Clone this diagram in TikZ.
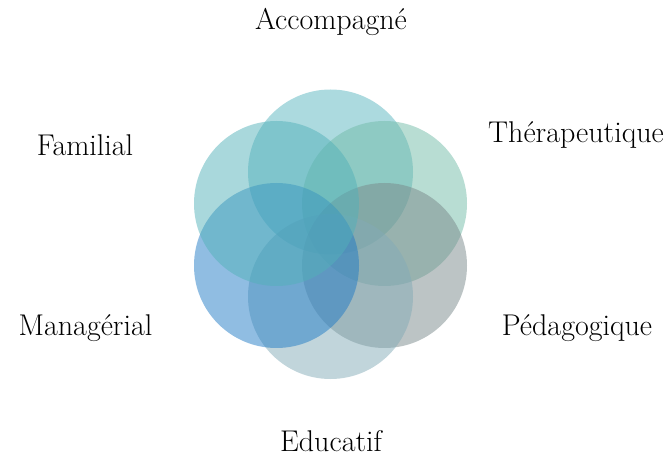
\documentclass[tikz,border=0pt]{standalone}
\definecolor{cTop}{RGB}{89,181,191}
\definecolor{cUL}{RGB}{83,177,185}
\definecolor{cUR}{RGB}{113,187,167}
\definecolor{cLR}{RGB}{121,137,139}
\definecolor{cBot}{RGB}{131,171,183}
\definecolor{cLL}{RGB}{33,123,197}
\tikzset{
  petal/.style={circle, minimum size=165pt, inner sep=0pt, draw=none, fill opacity=0.5},
  lab/.style={font=\fontsize{30}{36}\selectfont, inner sep=0pt}
}
\begin{document}
\begin{tikzpicture}[x=1pt,y=-1pt]
\useasboundingbox (0,0) rectangle (670,457);
\node[petal, fill=cTop] (top) at (330.5,172) {};
\node[petal, fill=cUR] (ur) at (384.5,203.5) {};
\node[petal, fill=cLR] (lr) at (384.5,265.5) {};
\node[petal, fill=cBot] (bot) at (330.5,296.5) {};
\node[petal, fill=cLL] (ll) at (276.5,265.5) {};
\node[petal, fill=cUL] (ul) at (276.5,203.5) {};
\node[lab] (t1) at (331,22) {Accompagné};
\node[lab] (t2) at (85,145) {Familial};
\node[lab] (t3) at (576,135) {Thérapeutique};
\node[lab] (t4) at (85.5,328) {Managérial};
\node[lab] (t5) at (577,328) {Pédagogique};
\node[lab] (t6) at (331,441) {Educatif};
\end{tikzpicture}
\end{document}
